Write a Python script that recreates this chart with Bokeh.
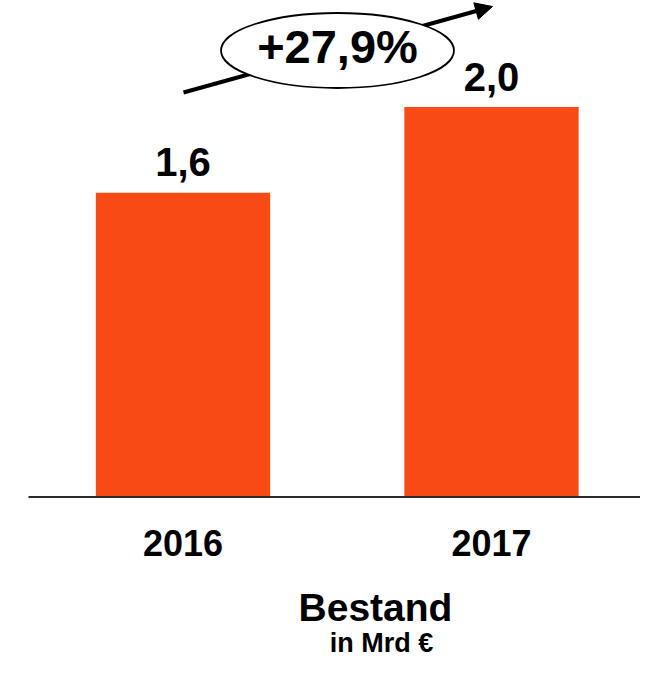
from bokeh.plotting import figure
from bokeh.models import ColumnDataSource, Arrow, NormalHead, Range1d
from bokeh.core.properties import value
from bokeh.embed import file_html
from bokeh.resources import INLINE

# ---- data ----
years = ["2016", "2017"]
bestand = [1.56, 2.0]
value_labels = ["1,6", "2,0"]
growth_label = "+27,9%"
title_main = "Bestand"
title_sub = "in Mrd €"

W, H = 640, 661
PX_X = 308.5   # pixels per category step
PX_Y = 195.0   # pixels per Mrd €
x_start = -182.5 / PX_X
y_start = -(H - 496.5) / PX_Y
TB = 0.41      # baseline correction (em)

def to_x(px):
    return x_start + px / PX_X

def to_y(py):
    return y_start + (H - py) / PX_Y

def text_y(py, fs):
    return to_y(py) + TB * fs / PX_Y

FONT = value("Liberation Sans")

p = figure(width=W, height=H, output_backend="svg", toolbar_location=None,
           x_axis_type=None, y_axis_type=None,
           x_range=Range1d(x_start, x_start + W / PX_X),
           y_range=Range1d(y_start, y_start + H / PX_Y),
           min_border=0, tools="")
p.outline_line_color = None
p.grid.visible = False
p.background_fill_color = "white"
p.border_fill_color = "white"

xs = list(range(len(years)))
src = ColumnDataSource(dict(x=xs, top=bestand, year=years, lab=value_labels,
                            lab_y=[v + (14 + TB * 40) / PX_Y for v in bestand],
                            year_y=[(-60.5 + TB * 36) / PX_Y] * len(years)))

p.vbar(x="x", top="top", bottom=0, width=0.565, source=src,
       fill_color="#F84A15", line_color=None)

# baseline
p.segment(x0=[to_x(28)], y0=[0], x1=[to_x(652)], y1=[0],
          line_color="#2b2b2b", line_width=2)

# value labels
p.text(x="x", y="lab_y", text="lab", source=src, text_font=FONT,
       text_font_style="bold", text_font_size="40px", text_align="center",
       text_baseline="alphabetic", text_color="black")

# year labels
p.text(x="x", y="year_y", text="year", source=src, text_font=FONT,
       text_font_style="bold", text_font_size="36px", text_align="center",
       text_baseline="alphabetic", text_color="black")

# titles below
p.text(x=[to_x(375)], y=[text_y(623, 39)], text=[title_main], text_font=FONT,
       text_font_style="bold", text_font_size="39px", text_align="center",
       text_baseline="alphabetic", text_color="black")
p.text(x=[to_x(381)], y=[text_y(654, 27)], text=[title_sub], text_font=FONT,
       text_font_style="bold", text_font_size="27px", text_align="center",
       text_baseline="alphabetic", text_color="black")

# growth arrow
arrow = Arrow(x_start=to_x(183), y_start=to_y(92), x_end=to_x(492), y_end=to_y(6),
              line_width=4, line_color="black", level="underlay",
              end=NormalHead(size=17, fill_color="black", line_color="black"))
p.add_layout(arrow)

# ellipse with growth label
p.ellipse(x=[to_x(337)], y=[to_y(50)], width=233 / PX_X, height=75 / PX_Y,
          fill_color="white", line_color="black", line_width=1.8)
p.text(x=[to_x(337)], y=[text_y(65, 47)], text=[growth_label], text_font=FONT,
       text_font_style="bold", text_font_size="47px", text_align="center",
       text_baseline="alphabetic", text_color="black")

open("out.html", "w").write(file_html(p, INLINE))
